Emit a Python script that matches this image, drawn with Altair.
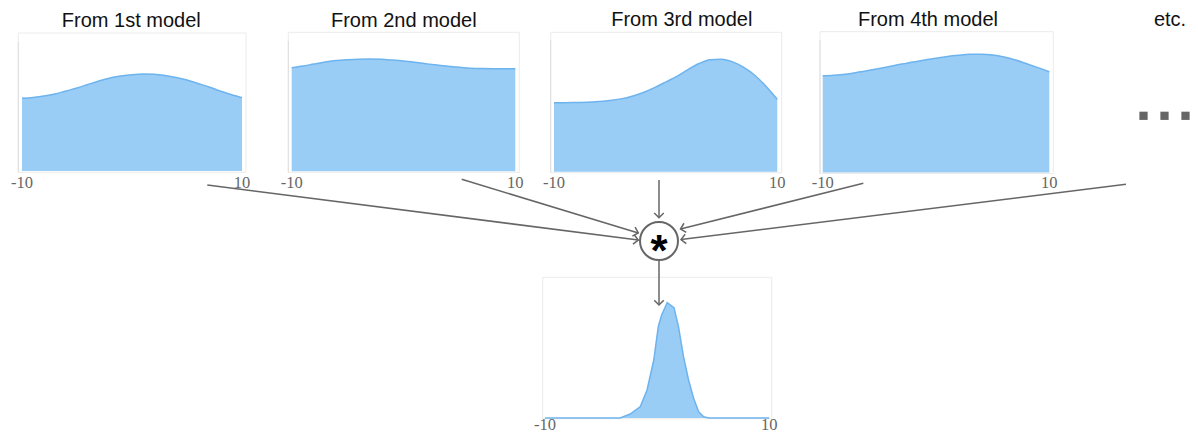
import math
import altair as alt
import pandas as pd

# ---------------- data ----------------
X_GRID = list(range(-10, 11))
MODEL1 = [0.527, 0.533, 0.543, 0.558, 0.580, 0.601, 0.627, 0.652, 0.674, 0.688, 0.698,
          0.703, 0.701, 0.692, 0.678, 0.659, 0.634, 0.609, 0.580, 0.554, 0.531]
MODEL2 = [0.745, 0.757, 0.772, 0.786, 0.797, 0.803, 0.807, 0.808, 0.806, 0.800, 0.793,
          0.784, 0.774, 0.764, 0.755, 0.748, 0.742, 0.739, 0.738, 0.738, 0.738]
MODEL3 = [0.496, 0.496, 0.498, 0.500, 0.505, 0.512, 0.524, 0.543, 0.570, 0.605, 0.645,
          0.686, 0.735, 0.778, 0.805, 0.809, 0.790, 0.750, 0.692, 0.613, 0.521]
MODEL4 = [0.691, 0.695, 0.702, 0.714, 0.728, 0.743, 0.759, 0.775, 0.789, 0.804, 0.816,
          0.829, 0.838, 0.844, 0.844, 0.839, 0.825, 0.804, 0.777, 0.749, 0.720]
COMBINED_X = [-10, -3.3, -2.4, -1.5, -0.9, -0.3, 0.1, 0.4, 0.9, 1.5, 1.9, 2.35, 2.8,
              3.25, 3.7, 4.15, 4.6, 10]
COMBINED_Y = [0, 0, 0.028, 0.081, 0.199, 0.412, 0.649, 0.732, 0.82, 0.784, 0.649,
              0.436, 0.270, 0.140, 0.045, 0.009, 0, 0]
TITLES = ["From 1st model", "From 2nd model", "From 3rd model", "From 4th model", "etc."]
TICK_VALUES = [-10, 10]
TICK_LABELS = ["-10", "10"]
OPERATOR = "*"

# ---------------- layout (page pixels) ----------------
MARGIN = 8
W, H = 1182, 426
TITLE_X = [131.3, 403.8, 681.8, 928.0, 1170.0]
TITLE_Y = [26.7, 26.7, 26.2, 26.2, 26.2]
BOX_L = [18.3, 288.3, 550.7, 820.0, 542.7]
BOX_T = [33.0, 32.3, 32.3, 31.7, 277.3]
BOX_R = [246.0, 519.3, 781.7, 1053.3, 771.7]
BOX_B = [172.3, 172.3, 172.7, 173.5, 418.7]
EDGE_T = [42.0, 41.0, 40.0, 40.0]
DATA_L = [22.0, 291.7, 554.0, 822.7, 545.0]
DATA_R = [242.0, 515.3, 777.3, 1049.3, 769.3]
BASE_Y = [171.0, 171.3, 171.7, 172.5, 418.0]
TOP_Y = [33.0, 32.3, 32.7, 32.5, 277.3]
LABEL_DY = [12, 12, 11.5, 10.5, 6.5]
AR_X1 = [207.3, 461.7, 659.0, 863.3, 1126.0, 659.0]
AR_Y1 = [185.0, 179.3, 180.0, 183.3, 184.3, 260.0]
AR_X2 = [638.3, 638.3, 659.0, 680.5, 681.0, 659.0]
AR_Y2 = [240.0, 233.0, 217.7, 229.0, 239.5, 305.0]
CIRCLE_X, CIRCLE_Y, CIRCLE_R = 659.0, 241.0, 19.0
DOTS_X = [1143.5, 1164.5, 1185.5]
DOTS_Y = 115.8

FILL = "#9acdf6"
LINE = "#6db3ee"
GREY = "#666666"
BOXC = "#ebebeb"
EDGEC = "#dedede"

cx = alt.Scale(domain=[MARGIN, MARGIN + W], range=[0, W], nice=False, zero=False)
cy = alt.Scale(domain=[MARGIN, MARGIN + H], range=[0, H], nice=False, zero=False)

def X(f):
    return alt.X(f, type="quantitative", scale=cx, axis=None)

def Y(f):
    return alt.Y(f, type="quantitative", scale=cy, axis=None)

# boxes
boxes_df = pd.DataFrame({"l": BOX_L, "t": BOX_T, "r": BOX_R, "b": BOX_B})
boxes = alt.Chart(boxes_df).mark_rect(filled=False, stroke=BOXC, strokeWidth=1).encode(
    x=X("l"), x2="r", y=Y("t"), y2="b")
edges_df = pd.DataFrame({"l": BOX_L[:4], "t": EDGE_T, "b": BOX_B[:4]})
edges = alt.Chart(edges_df).mark_rule(color=EDGEC, strokeWidth=1).encode(
    x=X("l"), y=Y("t"), y2="b")

# titles
titles_df = pd.DataFrame({"x": TITLE_X, "y": TITLE_Y, "t": TITLES})
titles = alt.Chart(titles_df).mark_text(
    font="Liberation Sans", fontSize=20, color="#111111", align="center", baseline="alphabetic"
).encode(x=X("x"), y=Y("y"), text="t:N")

# arrows
ang = [math.degrees(math.atan2(y2 - y1, x2 - x1)) % 360
       for x1, y1, x2, y2 in zip(AR_X1, AR_Y1, AR_X2, AR_Y2)]
arrows_df = pd.DataFrame({"x1": AR_X1, "y1": AR_Y1, "x2": AR_X2, "y2": AR_Y2, "a": ang})
shafts = alt.Chart(arrows_df).mark_rule(color=GREY, strokeWidth=1.5).encode(
    x=X("x1"), y=Y("y1"), x2="x2", y2="y2")
heads = alt.Chart(arrows_df).mark_point(
    shape="M -1 -1 L 0 0 L -1 1", filled=False, color=GREY, strokeWidth=1.5, size=90, opacity=1
).encode(x=X("x2"), y=Y("y2"), angle=alt.Angle("a:Q", scale=None))

# operator circle
op_df = pd.DataFrame({"x": [CIRCLE_X], "y": [CIRCLE_Y], "t": [OPERATOR]})
ring = alt.Chart(op_df).mark_point(
    shape="circle", filled=False, color=GREY, strokeWidth=2,
    size=(2 * CIRCLE_R) ** 2, opacity=1
).encode(x=X("x"), y=Y("y"))
star = alt.Chart(op_df).mark_text(
    font="Liberation Sans", fontWeight="bold", fontSize=44, color="black",
    align="center", baseline="alphabetic", dy=25
).encode(x=X("x"), y=Y("y"), text="t:N")

# etc dots
dots_df = pd.DataFrame({"x": DOTS_X, "y": [DOTS_Y] * len(DOTS_X)})
dots = alt.Chart(dots_df).mark_square(size=68, color=GREY, opacity=1).encode(
    x=X("x"), y=Y("y"))

canvas = alt.layer(boxes, edges, titles, shafts, heads, ring, star, dots)


def panel(i, xs, ys, interp):
    xsc = alt.Scale(domain=[-10, 10], range=[DATA_L[i] - MARGIN, DATA_R[i] - MARGIN],
                    nice=False, zero=False)
    ysc = alt.Scale(domain=[0, 1], range=[BASE_Y[i] - MARGIN, TOP_Y[i] - MARGIN],
                    nice=False, zero=False)
    df = pd.DataFrame({"x": xs, "v": ys})
    area = alt.Chart(df).mark_area(
        color=FILL, opacity=1, interpolate=interp,
        line={"color": LINE, "strokeWidth": 1.5}
    ).encode(x=alt.X("x:Q", scale=xsc, axis=None), y=alt.Y("v:Q", scale=ysc, axis=None))
    ldf = pd.DataFrame({"x": TICK_VALUES, "v": [0, 0], "t": TICK_LABELS})
    labels = alt.Chart(ldf).mark_text(
        font="Liberation Serif", fontSize=16.5, color=GREY, align="center",
        baseline="middle", dy=LABEL_DY[i]
    ).encode(x=alt.X("x:Q", scale=xsc, axis=None), y=alt.Y("v:Q", scale=ysc, axis=None),
             text="t:N")
    return alt.layer(area, labels)


p1 = panel(0, X_GRID, MODEL1, "monotone")
p2 = panel(1, X_GRID, MODEL2, "monotone")
p3 = panel(2, X_GRID, MODEL3, "monotone")
p4 = panel(3, X_GRID, MODEL4, "monotone")
p5 = panel(4, COMBINED_X, COMBINED_Y, "linear")

chart = alt.layer(canvas, p1, p2, p3, p4, p5).resolve_scale(
    x="independent", y="independent"
).properties(
    width=W, height=H, padding=0, autosize=alt.AutoSizeParams(type="none"),
    background="white"
).configure_view(stroke=None)

chart.save("out.html", embed_options={"renderer": "svg", "actions": False})
